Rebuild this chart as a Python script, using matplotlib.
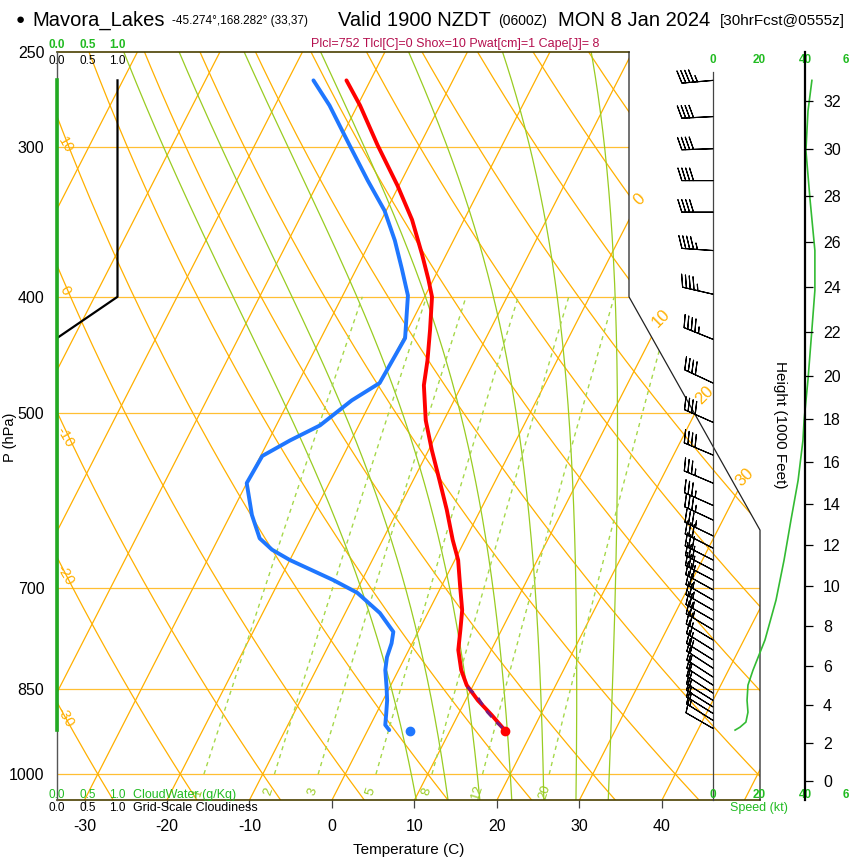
import numpy as np
import matplotlib
matplotlib.use('Agg')
import matplotlib.pyplot as plt
from matplotlib.patches import Polygon
import matplotlib.transforms as mtransforms

plt.rcParams['font.family'] = ['Liberation Sans', 'DejaVu Sans']

# ------------------------------------------------------------------ data
# temperature profile (hPa, degC)
p_temp = [264, 277, 299, 323, 345, 369, 387, 400, 426, 452, 474, 507, 537, 569,
          602, 638, 663, 696, 730, 758, 788, 819, 843, 868, 893, 919]
t_temp = [-42.9, -39.7, -35.1, -30.2, -26.3, -22.9, -20.6, -19.1, -17.3, -15.7,
          -14.6, -12.2, -9.6, -6.8, -4.1, -1.5, 0.4, 2.2, 4.0, 5.0, 6.0, 7.6,
          9.2, 11.5, 14.1, 16.6]
# dewpoint profile
p_dew = [264, 277, 299, 320, 339, 359, 379, 399, 433, 472, 488, 512, 527, 543,
         572, 608, 636, 650, 663, 689, 706, 734, 761, 778, 799, 819, 846, 868,
         890, 910, 919]
td_dew = [-46.9, -43.4, -38.5, -34.1, -30.2, -27.1, -24.5, -22.1, -19.8, -20.1,
          -22.4, -24.7, -27.4, -29.8, -30.0, -27.4, -25.0, -22.8, -20.0, -13.5,
          -9.8, -5.8, -3.0, -2.5, -2.2, -1.6, -0.4, 0.5, 1.2, 1.8, 2.6]
# surface (2 m) values
sfc_p = 920
sfc_t = 16.7
sfc_td = 5.1
# lifted parcel near surface
p_parcel = [846, 862, 888, 907, 920]
t_parcel = [9.4, 11.2, 13.4, 15.3, 16.7]

# wind speed profile (kt)
p_spd = [264, 280, 302, 332, 366, 395, 426, 469, 507, 527, 569, 614, 663, 716,
         773, 819, 843, 868, 888, 905, 914, 919]
spd = [43.0, 41.3, 40.4, 42.2, 44.3, 44.3, 43.0, 41.3, 39.6, 39.1, 37.0, 33.9,
       30.9, 27.4, 22.6, 17.4, 15.2, 14.8, 15.2, 14.3, 11.7, 9.6]

# wind barbs
barb_p = [264, 283, 301, 320, 340, 366, 398, 434, 472, 509, 542, 572, 597, 614,
          633, 648, 663, 676, 689, 702, 716, 730, 744, 758, 773, 788, 803, 816,
          830, 843, 856, 868, 879, 890, 902, 916]
barb_spd = [43, 41, 40, 41, 42, 44, 44, 43, 41, 40, 39, 37, 35, 34, 33, 32, 31,
            30, 29, 28, 27, 26, 24, 23, 22, 21, 19, 18, 17, 15, 15, 15, 15, 15,
            14, 10]
barb_dir = [265, 267, 268, 270, 270, 274, 283, 292, 295, 294, 293, 293, 294,
            295, 296, 297, 297, 298, 298, 299, 300, 300, 300, 301, 301, 302, 302,
            303, 303, 303, 303, 302, 302, 302, 302, 300]

# cloud profiles
cloud_p = [264, 400, 433, 919]
cloud_frac = [1.0, 1.0, 0.0, 0.0]
cw_p = [264, 919]
cw_val = [0.0, 0.0]

# axis labels / ticks
p_ticks = [250, 300, 400, 500, 700, 850, 1000]
t_ticks = [-30, -20, -10, 0, 10, 20, 30, 40]
height_kft = list(range(0, 34, 2))
isobars = [300, 400, 500, 700, 850, 1000]
mix_vals = [1, 2, 3, 5, 8, 12, 20]
thw_vals = [8, 12, 16, 20, 24, 28, 32]
iso_label_T = [0, 10, 20, 30]
theta_label = [10, 0, -10, -20, -30]

# ------------------------------------------------------------------ geometry
W, H = 850, 860
def fx(px): return px / W
def fy(py): return 1 - py / H

P_BOT, P_TOP = 1051.0, 250.0
SKEW = 32.32          # degC per ln(p) unit
XS_L, XS_R = (57 - 332) / 8.25, (760 - 332) / 8.25
XS_TOPR = (629 - 332) / 8.25

def skew(t, p):
    return np.asarray(t, float) + SKEW * np.log(P_BOT / np.asarray(p, float))

# thermodynamics for background lines
def es(Tk):
    return 6.112 * np.exp(17.67 * (Tk - 273.15) / (Tk - 29.65))

def dTdp(Tk, p):
    Rd, Cp, Lv, eps = 287.04, 1005.7, 2.501e6, 0.622
    e = es(Tk)
    rs = eps * e / (p - e)
    return (Rd * Tk + Lv * rs) / (Cp + Lv * Lv * rs * eps / (Rd * Tk * Tk)) / p

def moist(thw):
    out = {}
    for grid in (np.linspace(1000, P_TOP, 751), np.linspace(1000, P_BOT, 52)):
        T = thw + 273.15
        Ts = [T]
        for i in range(len(grid) - 1):
            p0, h = grid[i], grid[i + 1] - grid[i]
            k1 = dTdp(T, p0)
            k2 = dTdp(T + h * k1 / 2, p0 + h / 2)
            k3 = dTdp(T + h * k2 / 2, p0 + h / 2)
            k4 = dTdp(T + h * k3, p0 + h)
            T = T + h * (k1 + 2 * k2 + 2 * k3 + k4) / 6
            Ts.append(T)
        out[grid[-1]] = (grid, np.array(Ts) - 273.15)
    gu, tu = out[P_TOP]
    gd, td = out[P_BOT]
    return np.concatenate([gd[::-1], gu[1:]]), np.concatenate([td[::-1], tu[1:]])

def mix_td(w, p):
    e = w * p / (622.0 + w)
    a = np.log(e / 6.112)
    return 243.5 * a / (17.67 - a)

def std_p(z_ft):
    z = z_ft * 0.3048
    return 1013.25 * (1 - 6.5e-3 * z / 288.15) ** 5.2559

# ------------------------------------------------------------------ figure
fig = plt.figure(figsize=(8.5, 8.6), dpi=100)
pos = [fx(57), fy(800), (760 - 57) / W, (800 - 52) / H]
ax = fig.add_axes(pos)
ax.set_yscale('log')
ax.set_ylim(P_BOT, P_TOP)
ax.set_xlim(XS_L, XS_R)
for s in ax.spines.values():
    s.set_visible(False)

clip = Polygon([(XS_L, P_BOT), (XS_L, P_TOP), (XS_TOPR, P_TOP), (XS_TOPR, 400),
                (XS_R, 626), (XS_R, P_BOT)], closed=True, transform=ax.transData,
               facecolor='none', edgecolor='none')
ax.add_patch(clip)

ORANGE = '#FFB000'
pp = np.geomspace(P_BOT, P_TOP, 200)
# isotherms
for t in range(-130, 60, 10):
    ln, = ax.plot(skew(np.full_like(pp, t), pp), pp, color=ORANGE, lw=0.9, zorder=1)
    ln.set_clip_path(clip)
# dry adiabats
for th in range(-30, 200, 10):
    tt = (th + 273.15) * (pp / 1000.0) ** 0.2857 - 273.15
    ln, = ax.plot(skew(tt, pp), pp, color=ORANGE, lw=0.9, zorder=1)
    ln.set_clip_path(clip)
# isobars
for p in isobars:
    ln, = ax.plot([XS_L, XS_R], [p, p], color=ORANGE, lw=0.9, alpha=0.8, zorder=1)
    ln.set_clip_path(clip)
# moist adiabats
for thw in thw_vals:
    mp, mt = moist(thw)
    ln, = ax.plot(skew(mt, mp), mp, color='#99CC22', lw=0.9, zorder=1)
    ln.set_clip_path(clip)
# mixing ratio lines
pm = np.geomspace(1000, 400, 60)
for w in mix_vals:
    ln, = ax.plot(skew(mix_td(w, pm), pm), pm, color='#A6D84A', lw=1.0,
                  dashes=(3, 3), zorder=1)
    ln.set_clip_path(clip)
    ax.text(skew(mix_td(w, 1035.0), 1035.0), 1035.0, str(w), color='#99CC22',
            fontsize=9.5, rotation=72, ha='center', va='center', zorder=2)

# isotherm labels (right) and dry adiabat labels (left)
iso_lab_p = [332, 417, 483, 566]
for t, p in zip(iso_label_T, iso_lab_p):
    ax.text(skew(t, p), p, str(t), color=ORANGE, fontsize=12, rotation=45,
            ha='center', va='center', clip_on=False)
theta_lab_p = [299, 395, 524, 682, 896]
for th, p in zip(theta_label, theta_lab_p):
    ax.text(XS_L + 1.0, p, str(th), color=ORANGE, fontsize=10.5, rotation=-60,
            ha='center', va='center')

# frame
ax.plot([XS_L, XS_TOPR], [P_TOP, P_TOP], color='#4A4000', lw=1.2, clip_on=False, zorder=5)
ax.plot([XS_L, XS_R], [P_BOT, P_BOT], color='#4A4000', lw=1.2, clip_on=False, zorder=5)
ax.plot([XS_TOPR, XS_TOPR, XS_R, XS_R], [P_TOP, 400, 626, P_BOT], color='#222222',
        lw=0.9, clip_on=False, zorder=5)
ax.plot([XS_L, XS_L], [P_TOP, P_BOT], color='#555555', lw=1.0, clip_on=False, zorder=5)

# profiles
ax.plot(skew(td_dew, p_dew), p_dew, color='#1F77FF', lw=2.8, zorder=6,
        solid_capstyle='round')
ax.plot(skew(t_temp, p_temp), p_temp, color='#FF0000', lw=2.8, zorder=7,
        solid_capstyle='round')
ax.plot(skew(t_parcel, p_parcel), p_parcel, color='#7A1A7A', lw=2.0,
        dashes=(3, 2.5), zorder=8)
ax.plot(skew(sfc_t, sfc_p), sfc_p, 'o', color='#FF0000', ms=6, zorder=9)
ax.plot(skew(sfc_td, sfc_p), sfc_p, 'o', color='#1F77FF', ms=6, zorder=9)

# axes ticks
ax.set_yticks(p_ticks)
ax.set_yticklabels([str(p) for p in p_ticks])
ax.yaxis.set_minor_locator(matplotlib.ticker.NullLocator())
ax.tick_params(axis='y', length=0, pad=9, labelsize=11.5)
ax.set_xticks(t_ticks)
ax.set_xticklabels([str(t) for t in t_ticks])
ax.tick_params(axis='x', direction='out', length=6, width=0.9, color='#444444',
               pad=8, labelsize=11.5)
ax.set_xlabel('Temperature (C)', fontsize=11, labelpad=6)
fig.text(fx(10), fy(437), 'P (hPa)', rotation=90, ha='center', va='center', fontsize=10.5)

# cloud axes
axc = fig.add_axes(pos)
axc.set_yscale('log')
axc.set_ylim(P_BOT, P_TOP)
axc.set_xlim(0, 703 / 60.5)
axc.patch.set_alpha(0)
axc.axis('off')
axc.plot(cloud_frac, cloud_p, color='black', lw=1.6, zorder=10)
axc.plot(cw_val, cw_p, color='#22AA22', lw=2.6, zorder=11, clip_on=False)
GREEN = '#22BB22'
btr = mtransforms.blended_transform_factory(axc.transData, fig.transFigure)
for v in (0.0, 0.5, 1.0):
    axc.text(v, fy(45), f'{v:.1f}', color=GREEN, fontsize=8.5, ha='center',
             va='center', transform=btr, fontweight='bold')
    axc.text(v, fy(61), f'{v:.1f}', color='black', fontsize=8.5, ha='center',
             va='center', transform=btr)
    axc.text(v, fy(795), f'{v:.1f}', color=GREEN, fontsize=8.5, ha='center',
             va='center', transform=btr)
    axc.text(v, fy(808), f'{v:.1f}', color='black', fontsize=8.5, ha='center',
             va='center', transform=btr)
fig.text(fx(133), fy(795), 'CloudWater (g/Kg)', color=GREEN, fontsize=9, va='center')
fig.text(fx(133), fy(808), 'Grid-Scale Cloudiness', color='black', fontsize=9, va='center')

# speed axes
axs = fig.add_axes([fx(713), fy(800), 138 / W, (800 - 52) / H])
axs.set_yscale('log')
axs.set_ylim(P_BOT, P_TOP)
axs.set_xlim(0, 60)
axs.patch.set_alpha(0)
axs.axis('off')
axs.plot([0, 0], [P_BOT, 260], color='#444444', lw=0.9, clip_on=False)
axs.plot(spd, p_spd, color='#33BB33', lw=1.2, clip_on=False, zorder=4)
d = np.deg2rad(np.array(barb_dir, float))
sp = np.array(barb_spd, float)
u = -sp * np.sin(d)
v = -sp * np.cos(d)
axs.barbs(np.zeros(len(barb_p)), barb_p, u, v, length=6.7, lw=0.8, color='black',
          clip_on=False, zorder=5)
str_ = mtransforms.blended_transform_factory(axs.transData, fig.transFigure)
for s_ in (0, 20, 40):
    axs.text(s_, fy(60), str(s_), color=GREEN, fontsize=8.5, fontweight='bold',
             ha='center', va='center', transform=str_, clip_on=False)
    axs.text(s_, fy(795), str(s_), color=GREEN, fontsize=8.5, fontweight='bold',
             ha='center', va='center', transform=str_, clip_on=False)
# last speed label is truncated at the figure edge in the original ("6")
for yy in (60, 795):
    fig.text(fx(842.5), fy(yy), '6', color=GREEN, fontsize=8.5, fontweight='bold',
             ha='left', va='center')
axs.text(20, fy(808), 'Speed (kt)', color=GREEN, fontsize=9, ha='center',
         va='center', transform=str_)

# height axes
axh = fig.add_axes([fx(713), fy(800), 92 / W, (800 - 52) / H])
axh.set_yscale('log')
axh.set_ylim(P_BOT, P_TOP)
axh.patch.set_alpha(0)
for k, s in axh.spines.items():
    s.set_visible(k == 'right')
axh.spines['right'].set_linewidth(1.6)
axh.set_xticks([])
axh.yaxis.tick_right()
axh.set_yticks([std_p(h * 1000) for h in height_kft])
axh.set_yticklabels([str(h) for h in height_kft])
axh.yaxis.set_minor_locator(matplotlib.ticker.NullLocator())
axh.tick_params(axis='y', direction='out', length=6, width=0.9, labelsize=11.5, pad=7)
fig.text(fx(780), fy(425), 'Height (1000 Feet)', rotation=-90, ha='center',
         va='center', fontsize=11)

# titles
fig.text(fx(16), fy(20), '\u25CF', fontsize=11, va='center', ha='left')
fig.text(fx(32), fy(20), 'Mavora_Lakes', fontsize=14.5, va='center')
fig.text(fx(172), fy(21), '-45.274\u00b0,168.282\u00b0 (33,37)', fontsize=8.5, va='center')
fig.text(fx(338), fy(20), 'Valid 1900 NZDT', fontsize=14.5, va='center')
fig.text(fx(498), fy(21), '(0600Z)', fontsize=10, va='center')
fig.text(fx(558), fy(20), 'MON 8 Jan 2024', fontsize=14.5, va='center')
fig.text(fx(720), fy(21), '[30hrFcst@0555z]', fontsize=11, va='center')
fig.text(fx(455), fy(44), 'Plcl=752 Tlcl[C]=0 Shox=10 Pwat[cm]=1 Cape[J]= 8',
         color='#B5104F', fontsize=9, ha='center', va='center')

fig.savefig('out.png', dpi=100)
